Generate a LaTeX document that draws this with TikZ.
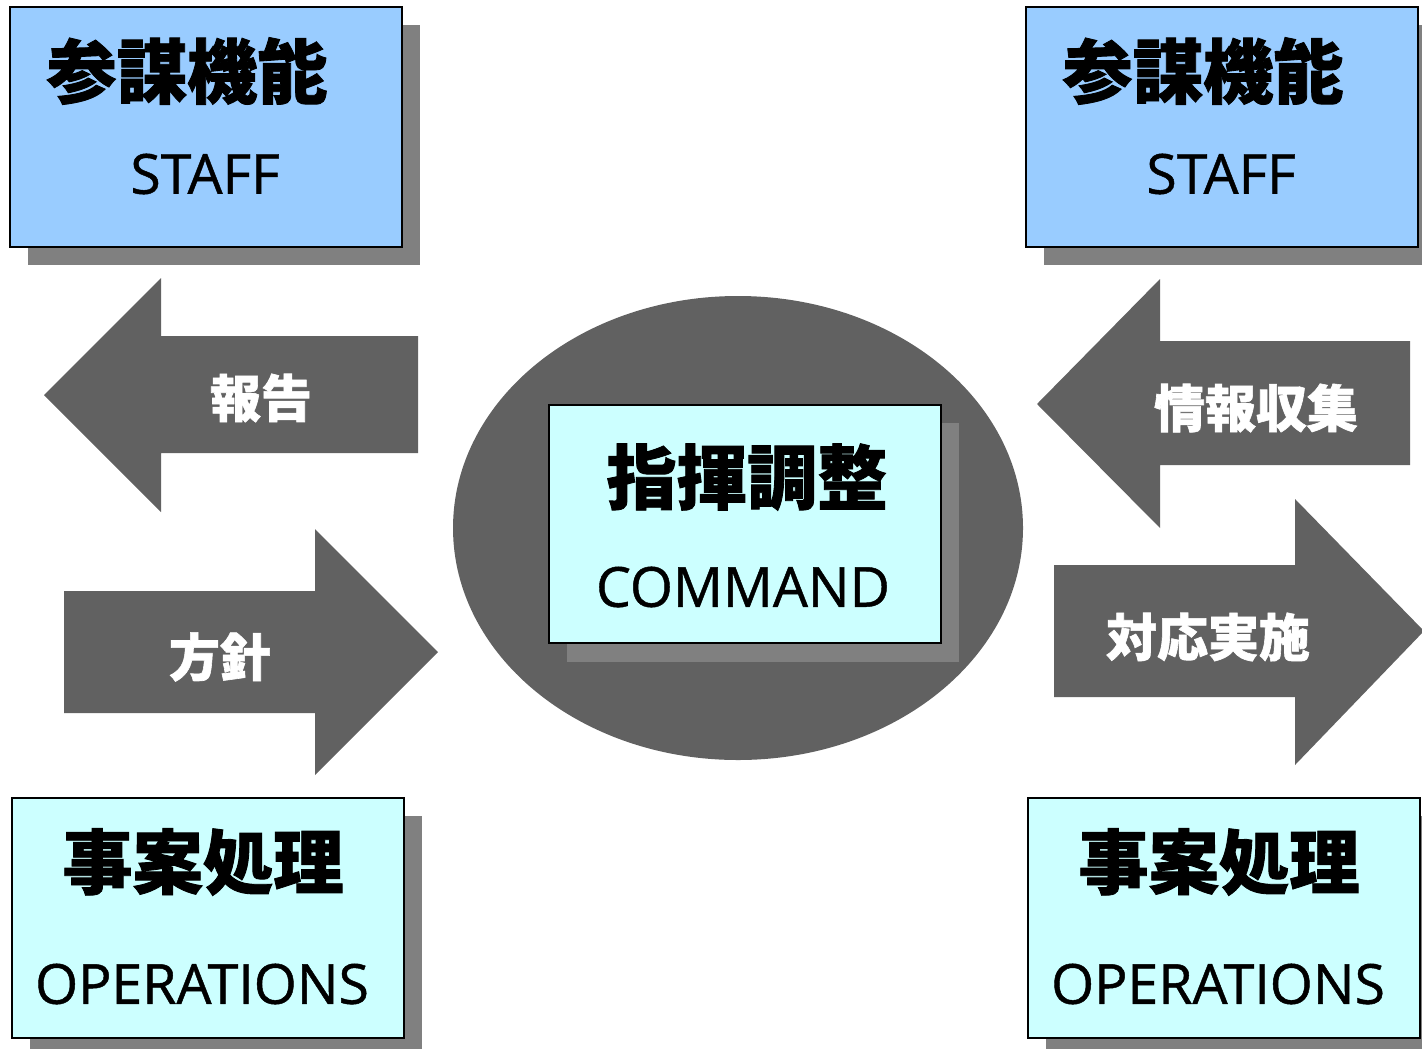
\documentclass[tikz,border=0pt]{standalone}
\usepackage{fontspec}
\setmainfont{Open Sans}[FakeBold=0.8]
\newfontfamily\jpfont[BoldFeatures={FakeBold=1.2}]{Noto Sans CJK JP}
\usetikzlibrary{positioning}

\definecolor{staffblue}{HTML}{99CCFF}
\definecolor{opscyan}{HTML}{CCFFFF}
\definecolor{arrowgray}{HTML}{616161}
\definecolor{shadowgray}{HTML}{808080}

\newcommand\headfont{\jpfont\bfseries\fontsize{40}{44}\selectfont}
\newcommand\namefont{\fontsize{31.5}{36}\selectfont}
\newcommand\arrowfont{\jpfont\bfseries\fontsize{29}{32}\selectfont}
\newcommand\shadowshift{18}
% role box: corner x, corner y, fill, heading, name, name drop, heading shift, name shift, node prefix
\newcommand\rolebox[9]{
  \fill[shadowgray] (#1 + \shadowshift, #2 + \shadowshift) rectangle ++ (392, 240) ;
  \draw[very thick, fill=#3] (#1, #2) rectangle ++ (392, 240) ;
  \node[font=\headfont] (#9head) at (#1 + #7, #2 + 64) {#4} ;
  \node[font=\namefont] (#9name) at (#1 + #8, #2 + #6) {#5} ;
}

\begin{document}
\begin{tikzpicture}[x=0.02cm, y=-0.02cm, arrowbody/.style={fill=arrowgray},
  arrowtext/.style={font=\arrowfont, text=white}]
    \useasboundingbox (0, 0) rectangle (1422, 1048) ;
    % boxes at the corners
    \rolebox{10}{7}{staffblue}{参謀機能}{STAFF}{167}{177}{195}{staffl}
    \rolebox{1026}{7}{staffblue}{参謀機能}{STAFF}{167}{177}{195}{staffr}
    \rolebox{12}{798}{opscyan}{事案処理}{OPERATIONS}{186}{191}{190}{opsl}
    \rolebox{1028}{798}{opscyan}{事案処理}{OPERATIONS}{186}{191}{190}{opsr}
    % centre
    \fill[arrowgray] (738, 528) ellipse (285 and 232) ;
    \fill[shadowgray] (567, 423) rectangle ++ (392, 239) ;
    \draw[very thick, fill=opscyan] (549, 405) rectangle ++ (392, 238) ;
    \node[font=\headfont] (cmdhead) at (747, 477) {指揮調整} ;
    \node[font=\namefont] (cmdname) at (743, 587) {COMMAND} ;
    % arrows on the left
    \fill[arrowbody] (44, 395) -- (161, 278) -- (161, 336) -- (418, 336)
       -- (418, 453) -- (161, 453) -- (161, 512) -- cycle ;
    \node[arrowtext] (report) at (261, 398) {報告} ;
    \fill[arrowbody] (438, 652) -- (315, 529) -- (315, 591) -- (64, 591)
       -- (64, 713) -- (315, 713) -- (315, 775) -- cycle ;
    \node[arrowtext] (policy) at (220, 657) {方針} ;
    % arrows on the right
    \fill[arrowbody] (1037, 404) -- (1160, 279) -- (1160, 341) -- (1410, 341)
       -- (1410, 465) -- (1160, 465) -- (1160, 528) -- cycle ;
    \node[arrowtext] (gather) at (1256, 408) {情報収集} ;
    \fill[arrowbody] (1424, 631) -- (1295, 499) -- (1295, 565) -- (1054, 565)
       -- (1054, 697) -- (1295, 697) -- (1295, 765) -- cycle ;
    \node[arrowtext] (respond) at (1208, 637) {対応実施} ;
\end{tikzpicture}
\end{document}
